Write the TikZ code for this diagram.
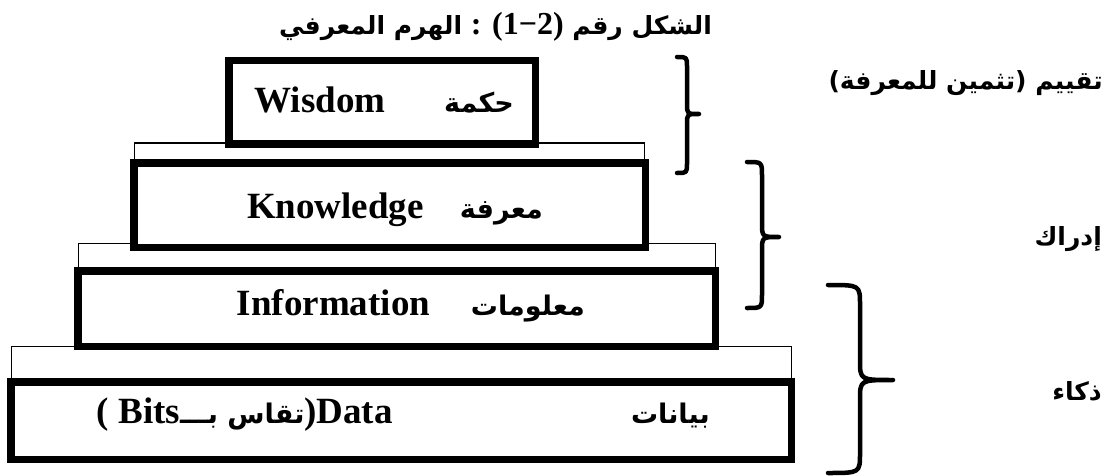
\documentclass[tikz,border=0pt]{standalone}
\usepackage{fontspec}
\setmainfont{Liberation Serif}
\newfontfamily\arabicfont[Script=Arabic]{DejaVu Sans}
\TeXXeTstate=1
\newcommand\enbig{\fontsize{37}{40}\selectfont\bfseries}
\newcommand\arbox{\arabicfont\fontsize{27}{30}\selectfont\bfseries}
\newcommand\arlab{\arabicfont\fontsize{25}{30}\selectfont\bfseries}
\tikzset{
  tier/.style={draw, line width=7.5pt, fill=white, inner sep=0pt},
  ledge/.style={draw, line width=1.2pt, fill=white, inner sep=0pt},
  brace/.style={line width=4.5pt, line cap=round, line join=round},
  entext/.style={font=\enbig, inner sep=0pt, anchor=base},
  artext/.style={font=\arbox, inner sep=0pt, anchor=base east},
  label/.style={font=\arlab, inner sep=0pt, anchor=base east},
}
\begin{document}
\begin{tikzpicture}[x=1pt, y=-1pt]
\useasboundingbox (0,0) rectangle (1111,476);

% thin ledges under each level
\node[ledge, minimum width=509.8pt, minimum height=27pt] (ledge1) at (389.5,156.6) {};
\node[ledge, minimum width=636.8pt, minimum height=32pt] (ledge2) at (397,259.6) {};
\node[ledge, minimum width=779.8pt, minimum height=38pt] (ledge3) at (401.5,365.6) {};

% the four levels of the pyramid
\node[tier, minimum width=306.5pt, minimum height=83.5pt] (wisdom) at (382,102.5) {};
\node[tier, minimum width=511.5pt, minimum height=84.5pt] (knowledge) at (389.5,205) {};
\node[tier, minimum width=637.5pt, minimum height=75.5pt] (information) at (396.5,308.5) {};
\node[tier, minimum width=780.5pt, minimum height=77.5pt] (data) at (401,420.5) {};

% level names
\node[entext] (wisdomEn) at (320,113) {Wisdom};
\node[artext] (wisdomAr) at (514,113) {حكمة};
\node[entext] (knowledgeEn) at (335.5,218) {Knowledge};
\node[artext] (knowledgeAr) at (543,218) {معرفة};
\node[entext] (informationEn) at (333.5,315) {Information};
\node[artext] (informationAr) at (585,315) {معلومات};
\node[entext, anchor=base east] (dataEn) at (393,423)
  {( Bits{\arabicfont\fontsize{27}{30}\selectfont\bfseries\beginR تقاس بـــ\endR})Data};
\node[artext] (dataAr) at (710,423) {بيانات};

% title
\node[label] (title) at (712,35)
  {\beginR الهرم المعرفي\endR{} {\rmfamily\fontsize{32}{34}\selectfont\bfseries : (1−2)} \beginR الشكل رقم\endR};

% braces grouping the levels
\draw[brace] (677,57) .. controls (687,57) .. (687,67) -- (687,104)
  .. controls (687,114) .. (699,114) .. controls (687,114) .. (687,124)
  -- (687,163) .. controls (687,173) .. (677,173);
\draw[brace] (747,162) .. controls (762,162) .. (762,176) -- (762,223)
  .. controls (762,237) .. (779,237) .. controls (762,237) .. (762,251)
  -- (762,294) .. controls (762,308) .. (747,308);
\draw[brace] (828,285) .. controls (860,285) .. (860,305) -- (860,360)
  .. controls (860,380) .. (893,380) .. controls (860,380) .. (860,400)
  -- (860,453) .. controls (860,473) .. (828,473);

% what each brace stands for
\node[label] (evaluation) at (1103,90) {\beginR تقييم (تثمين للمعرفة)\endR};
\node[label] (perception) at (1102,245) {إدراك};
\node[label] (intelligence) at (1102,400) {ذكاء};
\end{tikzpicture}
\end{document}
